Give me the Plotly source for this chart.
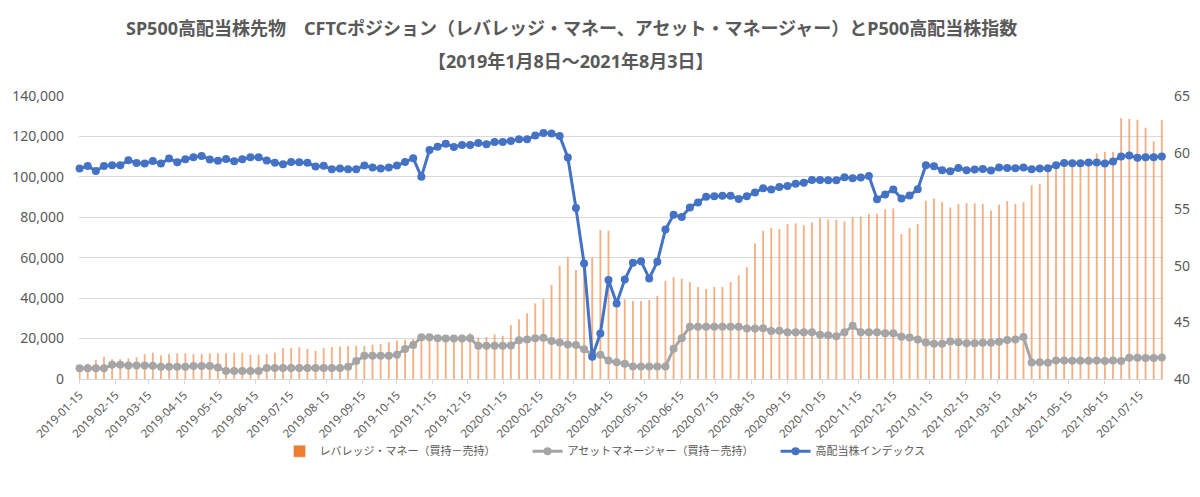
import pandas as pd
import plotly.graph_objects as go

# Weekly observation dates (Tuesdays)
dates = pd.date_range("2019-01-15", periods=134, freq="7D")

# Leveraged money net position (long - short), contracts
leveraged = [
    4500, 7700, 9400, 11000, 9800, 9800, 10200, 10700, 12300, 13000,
    11600, 12300, 12700, 12700, 12300, 12300, 12700, 12700, 12700, 13000,
    13000, 12000, 12000, 12300, 13100, 15300, 15300, 15700, 14900, 13900,
    15300, 15800, 16100, 16400, 16400, 16400, 17000, 17300, 18200, 19000,
    19400, 19800, 21000, 21500, 21000, 21500, 21000, 22000, 22600,
    20500, 20800, 22100, 21400, 26700, 29500, 32500, 37400, 39500, 46500,
    56000, 60400, 53900, 60000, 60200, 73700, 73300,
    39400, 39400, 38600, 38600, 39100, 41100, 48600, 50300, 49700, 48000,
    45500, 44500, 45500, 45500, 48000, 51200, 55300, 67200, 73300, 74800,
    74200, 76600, 77000,
    76100, 77400, 79700, 79000, 78800, 77900, 80200, 80300, 81700, 81800,
    83900, 84400, 71700, 74800, 76600, 88200, 89300, 87600, 84900, 86500,
    87000, 86900, 86500,
    83400, 86200, 88000, 86600, 87500, 95800, 96500, 103500, 104500, 106000,
    106500, 107000, 108000, 111600, 112400, 112400, 129000, 128600, 128200,
    124300, 117500, 128100,
]

# Asset manager net position (long - short), contracts
asset_mgr = [
    5300, 5300, 5300, 5300, 7000, 7000, 6700, 6700, 6700, 6500,
    6000, 6000, 6000, 6000, 6400, 6400, 6400, 5700, 4000, 4000,
    4000, 4000, 4000, 5400, 5400, 5400, 5400, 5400, 5400, 5400,
    5400, 5400, 5400, 6000, 8900, 11500, 11500, 11500, 11500, 12000,
    14900, 16800, 20700, 20700, 20200, 20000, 20000, 20000, 20100,
    16400, 16400, 16400, 16400, 16600, 19200, 19600, 20200, 20400, 18800,
    18100, 17100, 16800, 14700, 12200, 12000, 9100, 8300, 7600,
    6200, 6200, 6200, 6200, 6200, 15000, 20100, 25800,
    25900, 25900, 25900, 25900, 25900, 25900, 25000, 25000, 25100, 23800,
    23900, 23100, 23100,
    23100, 23100, 21900, 21600, 21200, 23100, 26300, 23100, 23100, 23100,
    22600, 22600, 20900, 20500, 19600, 18000, 17400, 17400, 18600, 18200,
    17700, 17700, 17900, 17900, 18400, 19300, 19600, 20800,
    8200, 8300, 8100, 9200, 9100, 9000, 9000, 9000, 9100, 8900,
    9100, 8900, 10500, 10500, 10400, 10400, 10600,
]

# High dividend stock index (right axis)
hd_index = [
    58.59, 58.82, 58.38, 58.82, 58.88, 58.88, 59.32, 59.09, 59.03, 59.26,
    59.03, 59.47, 59.15, 59.41, 59.59, 59.71, 59.38, 59.29, 59.44, 59.24,
    59.41, 59.59, 59.60, 59.30, 59.10, 58.97, 59.17, 59.15, 59.10, 58.78,
    58.83, 58.52, 58.60, 58.52, 58.52, 58.86, 58.69, 58.60, 58.69, 58.85,
    59.17, 59.50, 57.86, 60.22, 60.51, 60.78, 60.50, 60.68, 60.68, 60.85,
    60.74, 60.94, 60.94, 61.03, 61.18, 61.18, 61.50, 61.74, 61.68, 61.47,
    59.57, 55.10, 50.20, 41.97, 44.03, 48.74, 46.68, 48.79, 50.26, 50.41,
    48.88, 50.35, 53.21, 54.50, 54.32, 55.15, 55.59, 56.09, 56.15, 56.18,
    56.18, 55.91, 56.15, 56.47, 56.85, 56.74, 56.97, 57.06, 57.24,
    57.34, 57.57, 57.57, 57.56, 57.56, 57.82, 57.74, 57.79, 57.93, 55.89,
    56.30, 56.75, 55.95, 56.20, 56.76, 58.89, 58.80, 58.44, 58.36, 58.65,
    58.44, 58.50, 58.56, 58.41, 58.68, 58.65, 58.62, 58.68, 58.54, 58.60,
    58.62, 58.89, 59.09, 59.06, 59.06, 59.12, 59.12, 59.04, 59.22, 59.65,
    59.74, 59.54, 59.60, 59.60, 59.66,
]

title_line1 = "SP500高配当株先物　CFTCポジション（レバレッジ・マネー、アセット・マネージャー）とP500高配当株指数"
title_line2 = "【2019年1月8日～2021年8月3日】"
name_lev = "レバレッジ・マネー（買持－売持）"
name_am = "アセットマネージャー（買持－売持）"
name_idx = "高配当株インデックス"

FONT = "Noto Sans, Noto Sans CJK JP, sans-serif"
TXT = "#595959"
GRID = "#D9D9D9"
ORANGE = "#ED7D31"

fig = go.Figure()
# thin weekly bars (drawn lighter, as in the original)
fig.add_trace(go.Bar(
    x=dates, y=leveraged, name=name_lev, legendgroup="lev", showlegend=False,
    marker=dict(color="rgba(240,150,90,0.75)", line=dict(width=0)),
    width=1.6 * 86400000,
))
# legend swatch for the bar series (full colour, no data)
fig.add_trace(go.Bar(
    x=[None], y=[None], name=name_lev, legendgroup="lev",
    marker=dict(color=ORANGE),
))
fig.add_trace(go.Scatter(
    x=dates, y=asset_mgr, name=name_am, mode="lines+markers",
    line=dict(color="#A5A5A5", width=3),
    marker=dict(color="#A5A5A5", size=8),
    cliponaxis=False,
))
fig.add_trace(go.Scatter(
    x=dates, y=hd_index, name=name_idx, mode="lines+markers", yaxis="y2",
    line=dict(color="#4472C4", width=3),
    marker=dict(color="#4472C4", size=8),
    cliponaxis=False,
))

fig.update_layout(
    width=1200, height=497,
    margin=dict(l=79, r=37, t=96, b=118, autoexpand=False),
    paper_bgcolor="white", plot_bgcolor="white",
    font=dict(family=FONT, color=TXT),
    showlegend=True,
    barmode="overlay",
    legend=dict(
        orientation="h", x=0.185, xanchor="left", y=-0.255, yanchor="middle",
        font=dict(size=11, color=TXT), entrywidth=203, entrywidthmode="pixels",
        bgcolor="rgba(0,0,0,0)",
    ),
    xaxis=dict(
        type="date", range=["2019-01-14 12:00", "2021-08-04"],
        tick0="2019-01-15", dtick="M1", tickformat="%Y-%m-%d", tickangle=-45,
        ticks="outside", ticklen=4, tickcolor=GRID, showline=True, linecolor=GRID,
        showgrid=False, tickfont=dict(size=11.5, color=TXT), automargin=False,
    ),
    yaxis=dict(
        range=[0, 140000], dtick=20000, tickformat=",", gridcolor=GRID,
        zeroline=False, showline=False, tickfont=dict(size=14, color=TXT),
        ticklabelstandoff=14, automargin=False,
    ),
    yaxis2=dict(
        overlaying="y", side="right", range=[40, 65], dtick=5, showgrid=False,
        zeroline=False, showline=False, tickfont=dict(size=14, color=TXT),
        ticklabelstandoff=10, automargin=False,
    ),
    annotations=[
        dict(text="<b>" + title_line1 + "</b>", xref="paper", yref="paper",
             x=(571 - 79) / 1084, y=(379 - 28) / 283, xanchor="center", yanchor="middle",
             showarrow=False, font=dict(size=18, color=TXT, family=FONT)),
        dict(text="<b>" + title_line2 + "</b>", xref="paper", yref="paper",
             x=(571 - 79) / 1084, y=(379 - 61) / 283, xanchor="center", yanchor="middle",
             showarrow=False, font=dict(size=18, color=TXT, family=FONT)),
    ],
)

fig.write_html("out.html", config={"displayModeBar": False},
               post_script="document.body.style.margin='0';")
